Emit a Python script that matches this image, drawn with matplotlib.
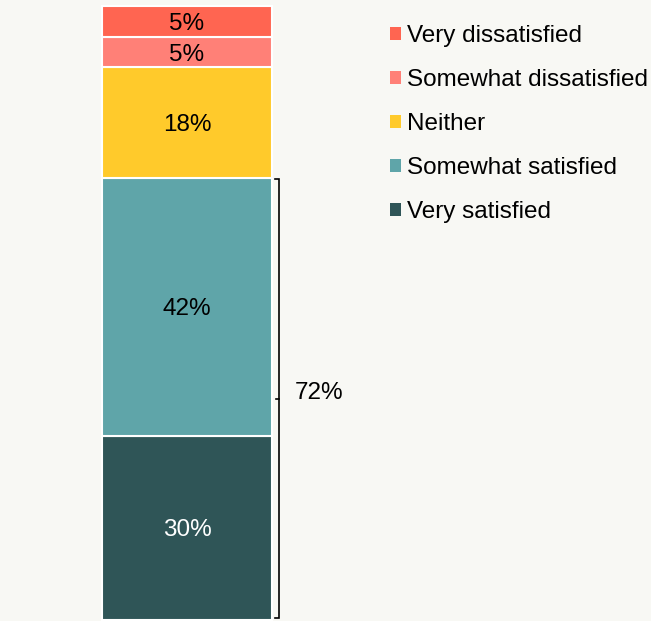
import matplotlib.pyplot as plt
from matplotlib.patches import Patch

plt.rcParams['font.family'] = ['Liberation Sans', 'DejaVu Sans']

categories = ["Very satisfied", "Somewhat satisfied", "Neither",
              "Somewhat dissatisfied", "Very dissatisfied"]
shares = [30, 42, 18, 5, 5]
colors = ["#2f5557", "#5fa5a9", "#ffca2b", "#ff8077", "#ff6551"]
label_colors = ["white", "black", "black", "black", "black"]
bg = "#f8f8f4"
fs = 17.5

fig = plt.figure(figsize=(6.51, 6.21), dpi=100, facecolor=bg)
ax = fig.add_axes([0, 0, 1, 1], facecolor=bg)

base = 0
for cat, val, col, tc in zip(categories, shares, colors, label_colors):
    ax.bar(0, val, bottom=base, width=1, color=col, edgecolor="white",
           linewidth=1.5, label=cat)
    ax.text(0, base + val / 2, f"{val}%", ha="center", va="center_baseline",
            fontsize=fs, color=tc)
    base += val

# bracket for total satisfied
sat = shares[0] + shares[1]
bx = 0.54
ax.plot([bx - 0.02, bx, bx, bx - 0.02], [sat - 0.2, sat - 0.2, 0.3, 0.3],
        color="black", lw=1.2, solid_joinstyle="miter")
ax.plot([bx - 0.015, bx], [sat / 2, sat / 2], color="black", lw=1.2)
ax.text(bx + 0.095, sat / 2 + 1, f"{sat}%", ha="left", va="center",
        fontsize=fs)

ax.set_xlim(-1.1, 2.729)
ax.set_ylim(-0.16, 100.98)
ax.axis("off")

handles = [Patch(facecolor=c, edgecolor="none") for c in colors][::-1]
fig.legend(handles, categories[::-1], loc="upper left",
           bbox_to_anchor=(390 / 651, 1 - 25 / 621), frameon=False,
           fontsize=fs, handlelength=0.45, handleheight=0.45,
           handletextpad=0.25, labelspacing=0.91, borderpad=0, borderaxespad=0)

fig.savefig("out.png", dpi=100, facecolor=bg)
